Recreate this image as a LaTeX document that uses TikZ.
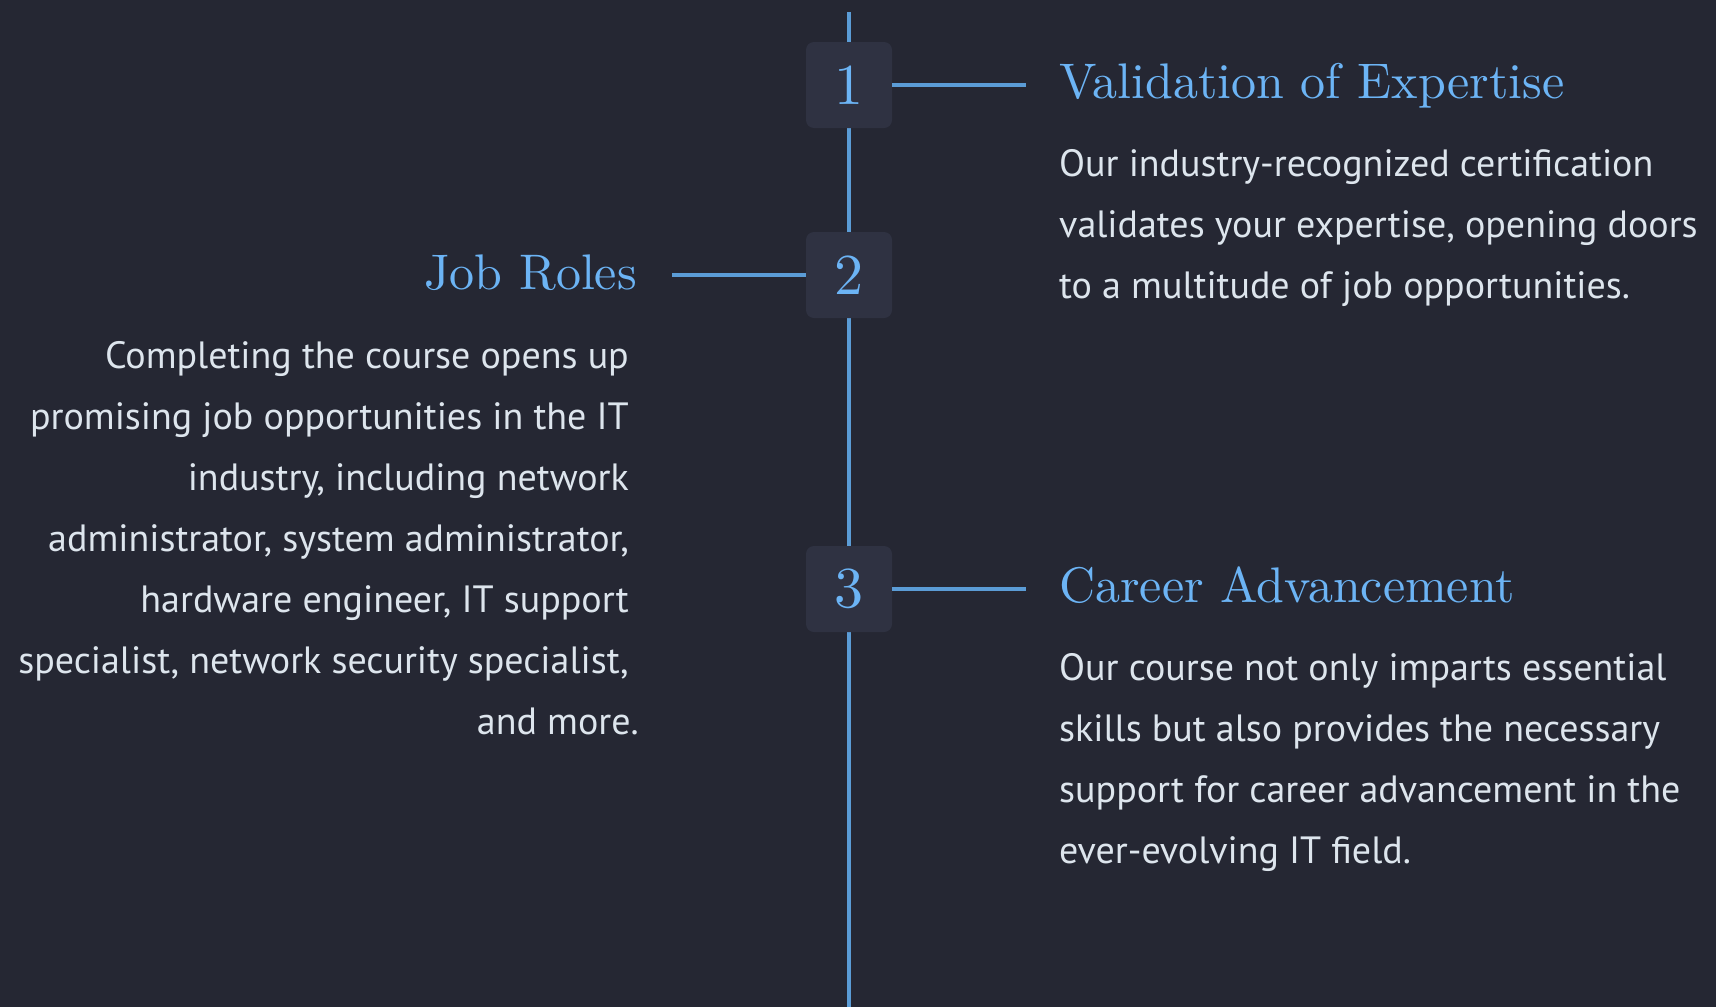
\documentclass[tikz,border=0pt]{standalone}
\usepackage{fontspec}
\newfontfamily\bodyfont{PT Sans}
\newfontfamily\headfont{lmroman10-regular}[Extension=.otf]
\usetikzlibrary{positioning}
\definecolor{bgcol}{RGB}{37,39,51}
\definecolor{boxcol}{RGB}{47,50,66}
\definecolor{linecol}{RGB}{91,156,214}
\definecolor{titlecol}{RGB}{108,180,245}
\definecolor{bodycol}{RGB}{221,229,237}
\tikzset{
	numbox/.style={fill=boxcol, rounded corners=8pt, minimum size=86pt, inner sep=0, text=titlecol, font=\headfont\fontsize{58}{58}\selectfont},
	headline/.style={inner sep=0, text=titlecol, font=\headfont\fontsize{50}{60}\selectfont},
	bodytext/.style={inner sep=0, text=bodycol, font=\bodyfont\fontsize{38}{61}\selectfont},
	timeline/.style={draw=linecol, line width=4pt},
}
\begin{document}
\begin{tikzpicture}[x=1pt,y=-1pt]
				    \useasboundingbox (0,0) rectangle (1716,1007);
				    \fill[bgcol] (0,0) rectangle (1716,1007);
				    % Place the line and the steps
				    \coordinate (top) at (849,12);
				    \coordinate (bottom) at (849,1007);
				    \draw [timeline] (top) -- (bottom);
				    \node [numbox] (n1) at (849,85) {1};
				    \node [numbox] (n2) at (849,275) {2};
				    \node [numbox] (n3) at (849,589) {3};
				    \coordinate (e1) at (1026,85);
				    \coordinate (e2) at (672,275);
				    \coordinate (e3) at (1026,589);
				    \draw [timeline] (n1.east) -- (e1);
				    \draw [timeline] (n2.west) -- (e2);
				    \draw [timeline] (n3.east) -- (e3);

				    % Place texts (base = last line)
				    \node [headline, anchor=base west] (h1) at (1059,98) {Validation of Expertise};
				    \node [bodytext, anchor=base west, align=left] (b1) at (1059,298) {Our industry-recognized certification\\validates your expertise, opening doors\\to a multitude of job opportunities.};

				    \node [headline, anchor=base east] (h2) at (637,289) {Job Roles};
				    \node [bodytext, anchor=base east, align=right] (b2) at (629,734) {Completing the course opens up\\promising job opportunities in the IT\\industry, including network\\administrator, system administrator,\\hardware engineer, IT support\\specialist, network security specialist,\\and more.\hspace*{-10pt}};

				    \node [headline, anchor=base west] (h3) at (1059,602) {Career Advancement};
				    \node [bodytext, anchor=base west, align=left] (b3) at (1059,863) {Our course not only imparts essential\\skills but also provides the necessary\\support for career advancement in the\\ever-evolving IT field.};
				\end{tikzpicture}
\end{document}
